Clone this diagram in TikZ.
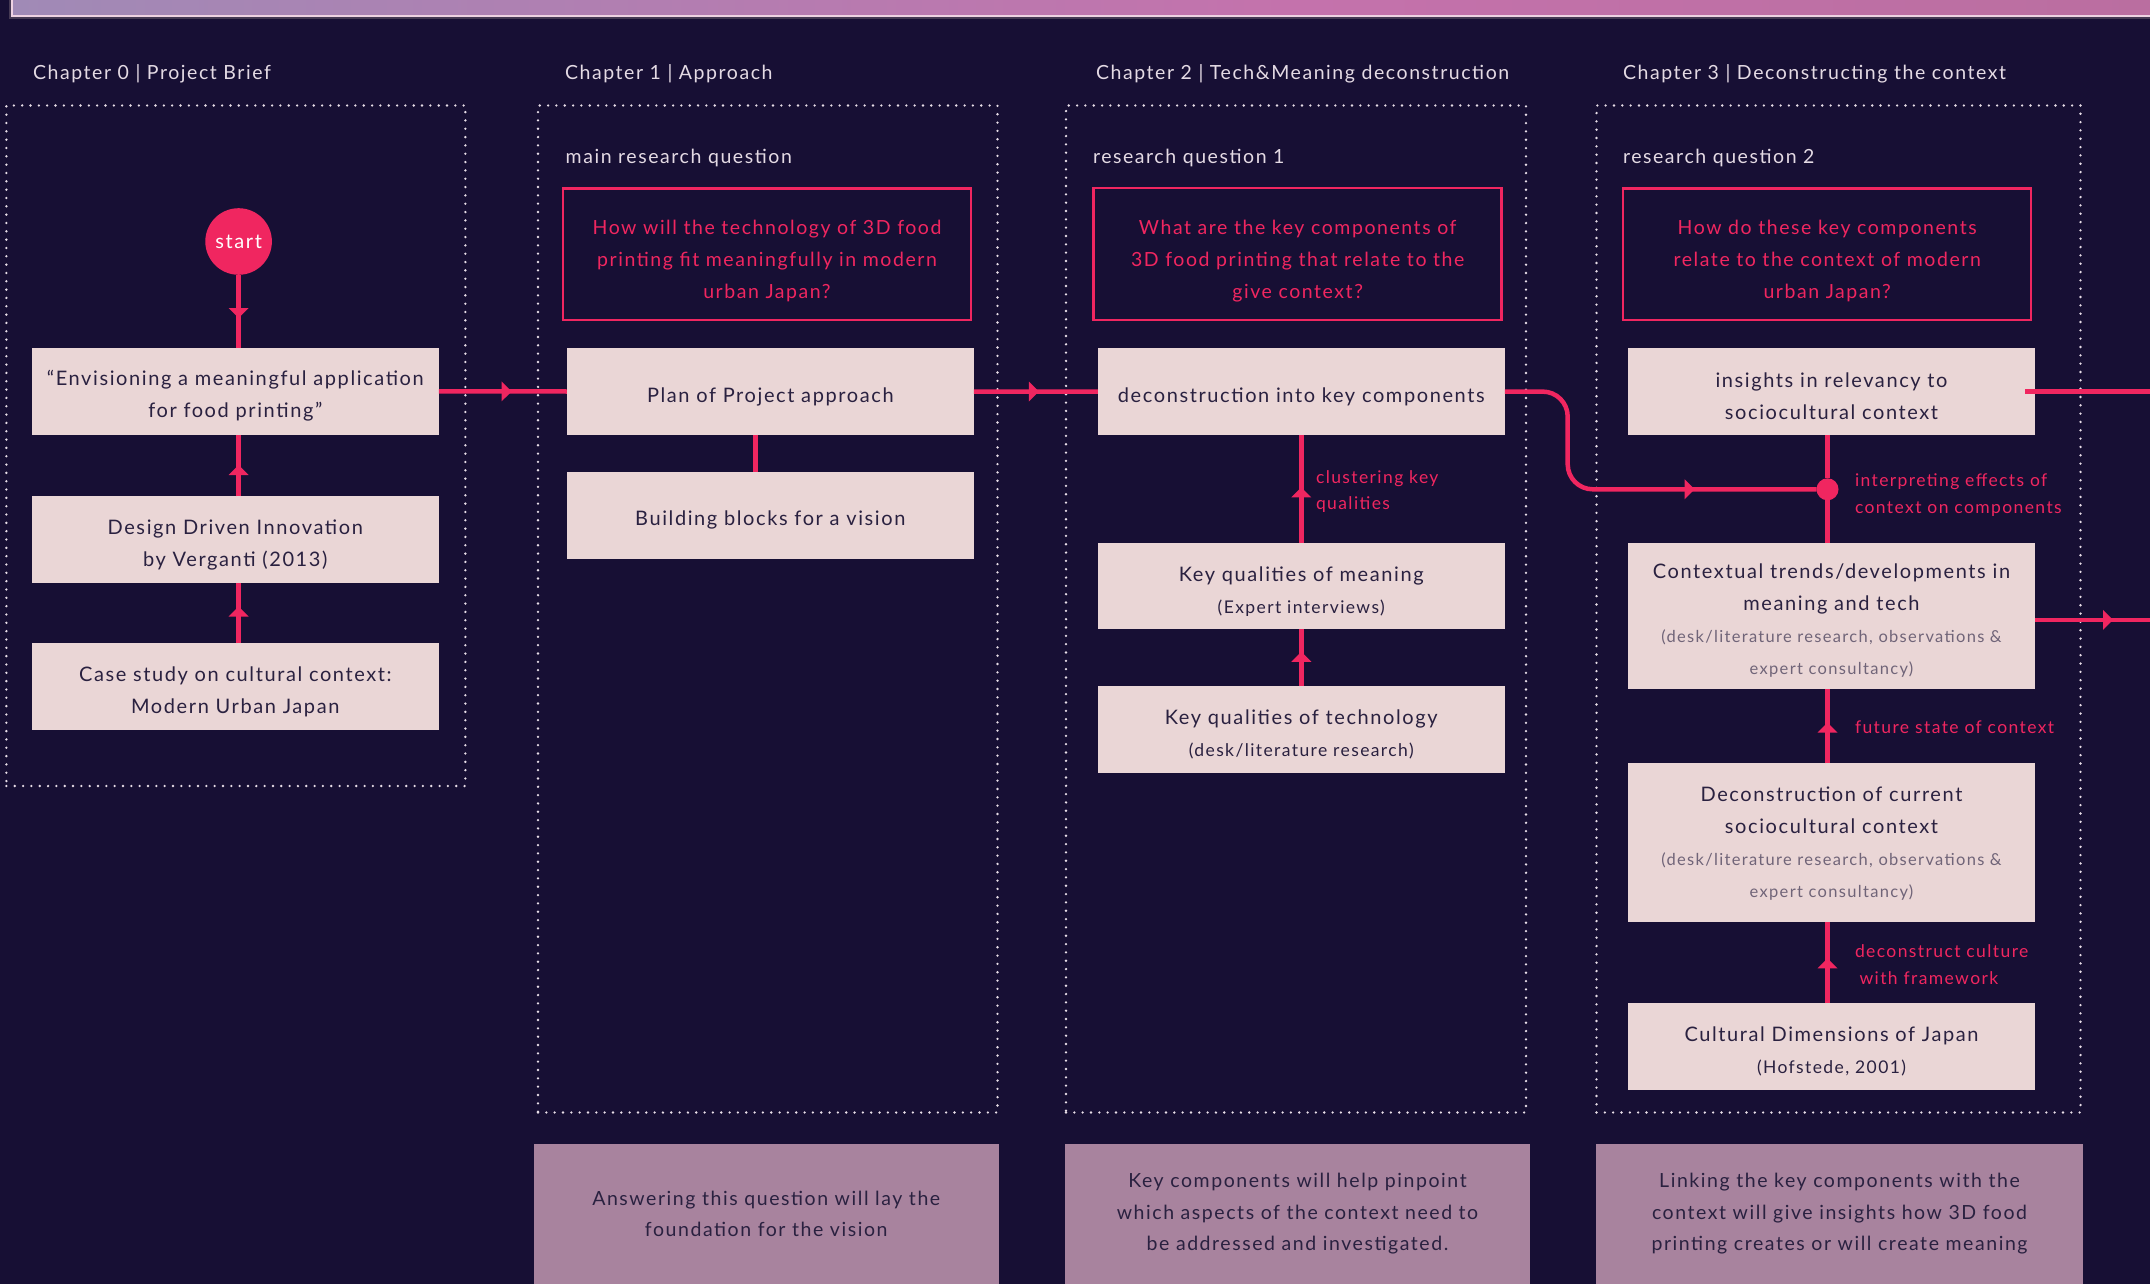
\documentclass[tikz,border=0pt]{standalone}
\usepackage{fontspec}
\setmainfont{Lato}[LetterSpace=8]
\usetikzlibrary{arrows.meta,decorations.markings}

\definecolor{bg}{RGB}{23,15,52}
\definecolor{accent}{RGB}{240,38,96}
\definecolor{boxfill}{RGB}{234,214,214}
\definecolor{ink}{RGB}{42,33,64}
\definecolor{inksoft}{RGB}{112,100,120}
\definecolor{plum}{RGB}{168,131,158}
\definecolor{pale}{RGB}{228,218,228}
\definecolor{dotcol}{RGB}{232,222,232}
\definecolor{bandA}{RGB}{170,110,168}
\definecolor{bandB}{RGB}{160,138,182}
\definecolor{bandC}{RGB}{196,114,172}
\definecolor{bandD}{RGB}{186,110,160}
\definecolor{bandE}{RGB}{178,114,150}
\definecolor{bandedge}{RGB}{238,210,226}
\definecolor{bandshadow}{RGB}{70,58,84}

\pgfdeclarehorizontalshading{topband}{100bp}{color(0bp)=(bandA); color(25bp)=(bandB); color(55bp)=(bandC); color(75bp)=(bandD); color(100bp)=(bandE)}

\newcommand\smallnote[1]{{\fontsize{17.5}{32}\selectfont #1}}
\newcommand\softnote[1]{{\fontsize{16.5}{32}\selectfont\color{inksoft}#1}}

\tikzset{
  every node/.style={inner sep=0pt, outer sep=0pt},
  % an invisible rule that sets the text a little lower in its box
  lift/.style={execute at begin node={\rule{0pt}{#1}}},
  stepbox/.style={fill=boxfill, text=ink, minimum width=407pt, minimum height=86.5pt,
    align=center, font=\fontsize{20}{32}\selectfont, lift=25pt},
  qbox/.style={draw=accent, line width=2.5pt, text=accent, minimum width=408pt,
    minimum height=131.5pt, align=center, font=\fontsize{19.5}{32}\selectfont, lift=92pt},
  twoline/.style={lift=57pt},
  fourline/.style={lift=121pt},
  chapterframe/.style={draw=dotcol, line width=2.6pt, dash pattern=on 0pt off 8.33pt, line cap=round},
  notebox/.style={fill=plum, text=ink, align=center, minimum height=140pt,
    font=\fontsize{19.5}{31.5}\selectfont},
  startdot/.style={circle, fill=accent, text=white, minimum size=66.6pt,
    font=\fontsize{20}{24}\selectfont},
  junction/.style={circle, fill=accent, minimum size=22pt},
  chaptertitle/.style={text=pale, anchor=west, font=\fontsize{19.5}{24}\selectfont},
  rqtitle/.style={text=pale, anchor=west, font=\fontsize{19.5}{24}\selectfont},
  edgelabel/.style={text=accent, anchor=west, align=left, font=\fontsize{17.5}{26.5}\selectfont},
  conn/.style={draw=accent, line width=4.5pt},
  tipat/.style={postaction={decorate}, decoration={markings,
    mark=at position #1 with {\arrow{Triangle[width=20pt,length=10pt,line width=0pt]}}}},
}

\begin{document}
\begin{tikzpicture}[x=1pt, y=-1pt]
  % page and background
  \useasboundingbox (0,0) rectangle (2150,1284);
  \fill[bg] (0,0) rectangle (2150,1284);

  % gradient band along the top edge
  \fill[shading=topband] (11,-4) rectangle (2154,16.3);
  \draw[bandshadow, line width=1.6pt] (10,-4) -- (10,18.3) -- (2154,18.3);
  \draw[bandedge, line width=2pt] (12,-4) -- (12,16.3) -- (2154,16.3);

  % chapter frames
  \node[chapterframe, minimum width=459pt, minimum height=680.5pt] (frame0) at (235.9,445.75) {};
  \node[chapterframe, minimum width=459.5pt, minimum height=1007pt] (frame1) at (767.75,609) {};
  \node[chapterframe, minimum width=460pt, minimum height=1007pt] (frame2) at (1296,609) {};
  \node[chapterframe, minimum width=484pt, minimum height=1007pt] (frame3) at (1838.5,609) {};

  % chapter titles
  \node[chaptertitle] (ch0) at (33,73.7) {Chapter 0 | Project Brief};
  \node[chaptertitle] (ch1) at (565,73.7) {Chapter 1 | Approach};
  \node[chaptertitle] (ch2) at (1096,73.7) {Chapter 2 | Tech\&Meaning deconstruction};
  \node[chaptertitle] (ch3) at (1623,73.7) {Chapter 3 | Deconstructing the context};

  % research question headings
  \node[rqtitle] (rq0) at (565.7,158.4) {main research question};
  \node[rqtitle] (rq1) at (1093,158.4) {research question 1};
  \node[rqtitle] (rq2) at (1623,158.4) {research question 2};

  % research questions
  \node[qbox] (q0) at (767,254.2) {How will the technology of 3D food\\printing fit meaningfully in modern\\urban Japan?};
  \node[qbox] (q1) at (1297.7,254) {What are the key components of\\3D food printing that relate to the\\give context?};
  \node[qbox] (q2) at (1827.2,254.4) {How do these key components\\relate to the context of modern\\urban Japan?};

  % chapter 0
  \node[startdot] (start) at (238.6,241.5) {start};
  \node[stepbox, twoline] (vision) at (235.3,391.3) {“Envisioning a meaningful application\\for food printing”};
  \node[stepbox, twoline] (ddi) at (235.3,539.5) {Design Driven Innovation\\by Verganti (2013)};
  \node[stepbox, twoline] (case) at (235.3,686.3) {Case study on cultural context:\\Modern Urban Japan};

  % chapter 1
  \node[stepbox] (plan) at (770.3,391.5) {Plan of Project approach};
  \node[stepbox] (blocks) at (770.3,515.3) {Building blocks for a vision};

  % chapter 2
  \node[stepbox] (decon) at (1301.25,391.6) {deconstruction into key components};
  \node[stepbox, twoline] (kqm) at (1301.25,586.2) {Key qualities of meaning\\\smallnote{(Expert interviews)}};
  \node[stepbox, twoline] (kqt) at (1301.25,729.4) {Key qualities of technology\\\smallnote{(desk/literature research)}};

  % chapter 3
  \node[stepbox, twoline] (insight) at (1831.5,391.5) {insights in relevancy to\\sociocultural context};
  \node[stepbox, fourline, minimum height=145.4pt] (trend) at (1831.5,615.9)
    {Contextual trends/developments in\\meaning and tech\\\softnote{(desk/literature research, observations \&}\\\softnote{expert consultancy)}};
  \node[stepbox, lift=113pt, minimum height=158.4pt] (current) at (1831.5,842.5)
    {Deconstruction of current\\sociocultural context\\\softnote{(desk/literature research, observations \&}\\\softnote{expert consultancy)}};
  \node[stepbox, twoline] (hofstede) at (1831.5,1046.3) {Cultural Dimensions of Japan\\\smallnote{(Hofstede, 2001)}};
  \node[junction] (jct) at (1827.5,489.3) {};

  % free ends at the right edge
  \coordinate (outA) at (2150,391.5);
  \coordinate (outB) at (2150,619.9);

  % connectors
  \draw[conn, tipat=43.2pt] (start.south) -- ([xshift=3.3pt]vision.north);
  \draw[conn, tipat=31.2pt] ([xshift=3.3pt]ddi.north) -- ([xshift=3.3pt]vision.south);
  \draw[conn, tipat=36.5pt] ([xshift=3.3pt]case.north) -- ([xshift=3.3pt]ddi.south);
  \draw[conn, tipat=72.8pt] (vision.east) -- (plan.west);
  \draw[conn] ([xshift=-14.6pt]plan.south) -- ([xshift=-14.6pt]blocks.north);
  \draw[conn, tipat=65pt] (plan.east) -- (decon.west);
  \draw[conn, tipat=55.5pt] (kqm.north) -- (decon.south);
  \draw[conn, tipat=34.4pt] (kqt.north) -- (kqm.south);
  \coordinate (bend) at (1567.7,440);
  \draw[conn, rounded corners=25pt, tipat=270.7pt] (decon.east) -| (bend) |- (jct);
  \draw[conn] ([xshift=-4pt]insight.south) -- (jct);
  \draw[conn] (jct) -- ([xshift=-4pt]trend.north);
  \draw[conn, tipat=40.6pt] ([xshift=-4pt]current.north) -- ([xshift=-4pt]trend.south);
  \draw[conn, tipat=44.7pt] ([xshift=-4pt]hofstede.north) -- ([xshift=-4pt]current.south);
  \draw[conn] ([xshift=-10pt]insight.east) -- (outA);
  \draw[conn, tipat=78pt] ([yshift=-4pt]trend.east) -- (outB);

  % connector labels
  \node[edgelabel] (lblcluster) at (1316,491.8) {clustering key\\qualities};
  \node[edgelabel] (lblinterp) at (1855,495.2) {interpreting effects of\\context on components};
  \node[edgelabel] (lblfuture) at (1855,727) {future state of context};
  \node[edgelabel] (lblculture) at (1855,964.6) {deconstruct culture\\\hspace*{4.5pt}with framework};

  % notes under the chapters
  \node[notebox, minimum width=465.5pt] (note1) at (766.25,1214)
    {Answering this question will lay the\\foundation for the vision};
  \node[notebox, minimum width=465pt] (note2) at (1297.5,1214)
    {Key components will help pinpoint\\which aspects of the context need to\\be addressed and investigated.};
  \node[notebox, minimum width=487pt] (note3) at (1839.5,1214)
    {Linking the key components with the\\context will give insights how 3D food\\printing creates or will create meaning};
\end{tikzpicture}
\end{document}
